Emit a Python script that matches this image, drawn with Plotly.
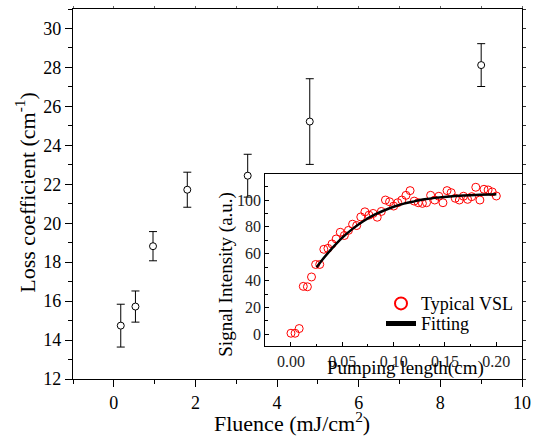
import plotly.graph_objects as go

# ---- main data ----
fluence = [0.17, 0.53, 0.96, 1.80, 3.28, 4.80, 9.00]
loss = [14.74, 15.72, 18.82, 21.72, 22.44, 25.22, 28.12]
loss_err = [1.1, 0.8, 0.75, 0.9, 1.1, 2.2, 1.1]

# ---- inset data ----
pump_len = [0.000, 0.004, 0.008, 0.012, 0.016, 0.020, 0.024, 0.028, 0.032, 0.036,
            0.040, 0.044, 0.048, 0.052, 0.056, 0.060, 0.064, 0.068, 0.072, 0.076,
            0.080, 0.084, 0.088, 0.092, 0.096, 0.100, 0.104, 0.108, 0.112, 0.116,
            0.120, 0.124, 0.128, 0.132, 0.136, 0.140, 0.144, 0.148, 0.152, 0.156,
            0.160, 0.164, 0.168, 0.172, 0.176, 0.180, 0.184, 0.188, 0.192, 0.196,
            0.200]
signal = [0.8, 0.8, 4.3, 35.7, 35.4, 42.7, 52.0, 52.0, 63.3, 64.0,
          67.3, 71.0, 76.0, 73.6, 77.4, 82.0, 81.0, 87.4, 91.2, 88.7,
          90.0, 87.2, 91.5, 100.0, 98.7, 95.5, 98.0, 100.0, 103.5, 107.0,
          99.2, 98.0, 97.5, 98.0, 103.5, 100.0, 102.8, 98.0, 107.0, 105.5,
          101.3, 100.0, 102.8, 100.5, 102.5, 109.5, 100.0, 108.0, 107.5, 106.0,
          103.0]
fit_x = [0.025, 0.030, 0.040, 0.050, 0.060, 0.070, 0.080, 0.090, 0.100, 0.110,
         0.120, 0.130, 0.140, 0.160, 0.180, 0.200]
fit_y = [50.0, 55.0, 64.0, 72.0, 78.5, 84.0, 88.5, 92.0, 95.0, 97.3,
         99.0, 100.5, 101.6, 103.0, 103.8, 104.3]

FONT = "Liberation Serif, Times New Roman, DejaVu Serif, serif"
W, H = 536, 438
L, R, T, B = 73, 522, 9.3, 379.3


def px(xp):
    return (xp - L) / (R - L)


def py(yp):
    return (B - yp) / (B - T)


fig = go.Figure()

fig.add_trace(go.Scatter(
    x=fluence, y=loss, mode="markers",
    marker=dict(symbol="circle", size=7, color="white",
                line=dict(color="black", width=1)),
    error_y=dict(type="data", array=loss_err, visible=True,
                 color="black", thickness=1, width=4),
    showlegend=False, xaxis="x", yaxis="y"))

# empty trace to register the mirror-tick overlay axes
fig.add_trace(go.Scatter(x=[], y=[], xaxis="x3", yaxis="y3",
                         showlegend=False, hoverinfo="skip"))

fig.add_trace(go.Scatter(
    x=pump_len, y=signal, mode="markers", name="Typical VSL",
    marker=dict(symbol="circle-open", size=8, color="red",
                line=dict(color="red", width=1)),
    xaxis="x2", yaxis="y2", legend="legend"))
fig.add_trace(go.Scatter(
    x=fit_x, y=fit_y, mode="lines", name="Fitting",
    line=dict(color="black", width=2.5, shape="spline"),
    xaxis="x2", yaxis="y2", legend="legend2"))

main_tick_font = dict(family=FONT, size=18, color="black")
legend_common = dict(xanchor="left", yanchor="top",
                     bgcolor="rgba(0,0,0,0)", borderwidth=0,
                     font=dict(family=FONT, size=18, color="black"),
                     itemsizing="constant")

fig.update_layout(
    width=W, height=H,
    margin=dict(l=L, r=W - R, t=T, b=H - B, autoexpand=False),
    paper_bgcolor="white", plot_bgcolor="white",
    font=dict(family=FONT, color="black"),
    xaxis=dict(range=[-1, 10], dtick=2, tick0=0, ticks="outside", ticklen=7,
               tickwidth=1, tickcolor="black", showline=True, linecolor="black",
               linewidth=1.2, mirror=True, showgrid=False, zeroline=False,
               tickfont=main_tick_font, automargin=False,
               minor=dict(ticks="outside", ticklen=4, dtick=1, tick0=0,
                          tickcolor="black")),
    yaxis=dict(range=[12, 31], dtick=2, tick0=12, ticks="outside", ticklen=7,
               tickwidth=1, tickcolor="black", showline=True, linecolor="black",
               linewidth=1.2, mirror=True, showgrid=False, zeroline=False,
               tickfont=main_tick_font, automargin=False,
               minor=dict(ticks="outside", ticklen=4, dtick=1, tick0=12,
                          tickcolor="black")),
    xaxis3=dict(range=[-1, 10], overlaying="x", side="top", anchor="y",
                dtick=1, tick0=0, ticks="outside", ticklen=2.5,
                tickcolor="#666", showticklabels=False, showline=False,
                showgrid=False, zeroline=False, automargin=False),
    yaxis3=dict(range=[12, 31], overlaying="y", side="right", anchor="x",
                dtick=1, tick0=12, ticks="outside", ticklen=3,
                tickcolor="#333", showticklabels=False, showline=False,
                showgrid=False, zeroline=False, automargin=False),
    xaxis2=dict(domain=[px(265.3), 1.0], anchor="y2",
                range=[-0.025, 0.225], dtick=0.05, tick0=0, tickformat=".2f",
                ticks="inside", ticklen=4, tickcolor="black",
                showline=True, linecolor="black", linewidth=1.2, mirror=True,
                showgrid=False, zeroline=False, automargin=False,
                tickfont=dict(family=FONT, size=16, color="#222"),
                minor=dict(ticks="inside", ticklen=2.5, dtick=0.025, tick0=0,
                           tickcolor="black")),
    yaxis2=dict(domain=[py(346.7), py(174)], anchor="x2",
                range=[-9, 119.6], dtick=20, tick0=0,
                ticks="inside", ticklen=4, tickcolor="black",
                showline=True, linecolor="black", linewidth=1.2, mirror=True,
                showgrid=False, zeroline=False, automargin=False,
                tickfont=dict(family=FONT, size=16, color="#222"),
                minor=dict(ticks="inside", ticklen=2.5, dtick=10, tick0=0,
                           tickcolor="black")),
    legend=dict(x=px(381), y=py(285.5), **legend_common),
    legend2=dict(x=px(381), y=py(305.5), **legend_common),
    showlegend=True,
)

annotations = [
    dict(text="Fluence (mJ/cm<sup>2</sup>)", x=px(292), y=py(422),
         font=dict(family=FONT, size=22, color="black")),
    dict(text="Loss coefficient (cm<sup>-1</sup>)", x=px(25), y=py(193),
         textangle=-90, font=dict(family=FONT, size=22, color="black")),
    dict(text="Signal Intensity (a.u.)", x=px(226), y=py(275),
         textangle=-90, font=dict(family=FONT, size=19, color="black")),
    dict(text="Pumping length(cm)", x=px(405), y=py(368),
         font=dict(family=FONT, size=19, color="black")),
]
for a in annotations:
    a.update(xref="paper", yref="paper", showarrow=False,
             xanchor="center", yanchor="middle")
fig.update_layout(annotations=annotations)

fig.write_html(
    "out.html",
    config={"displayModeBar": False},
    post_script="document.body.style.margin='0';"
                "document.body.style.overflow='hidden';")
